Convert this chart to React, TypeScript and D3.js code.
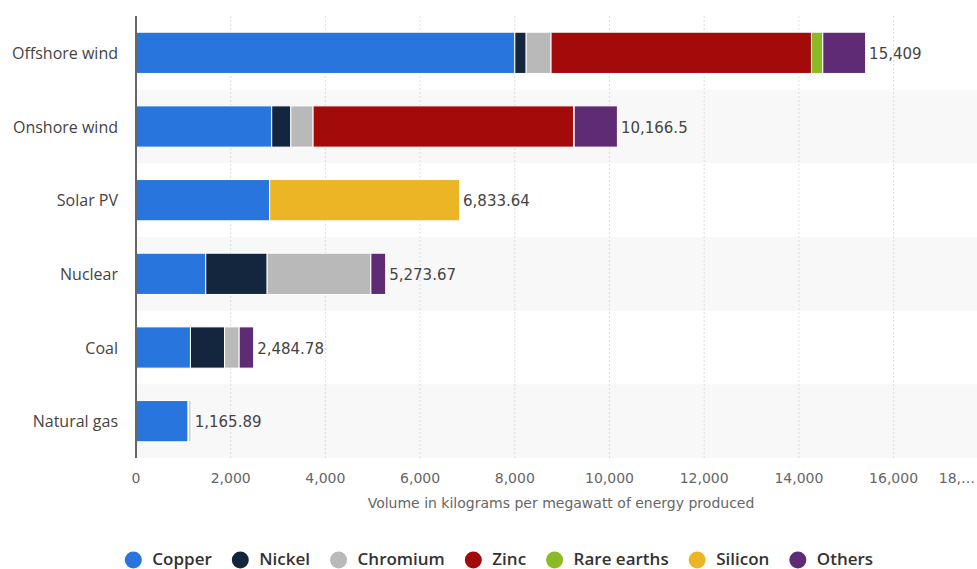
import React, { useMemo } from "react";
import * as d3 from "d3";

const categories = ["Offshore wind", "Onshore wind", "Solar PV", "Nuclear", "Coal", "Natural gas"];
const seriesNames = ["Copper", "Nickel", "Chromium", "Zinc", "Rare earths", "Silicon", "Others"];
const seriesColors = ["#2876dd", "#13263d", "#b9b9b9", "#a30b0b", "#8aba25", "#ebb526", "#5e2b74"];
const copper = [8000, 2866, 2822, 1473, 1150, 1100];
const nickel = [240, 404, 0, 1297, 721, 16];
const chromium = [525.5, 470, 0, 2190, 308, 48.34];
const zinc = [5500, 5500, 0, 0, 0, 0];
const rareEarths = [239, 14, 0, 0, 0, 0];
const silicon = [0, 0, 4011.64, 0, 0, 0];
const others = [904.5, 912.5, 0, 313.67, 305.78, 1.55];
const totalLabels = ["15,409", "10,166.5", "6,833.64", "5,273.67", "2,484.78", "1,165.89"];
const tickValues = [0, 2000, 4000, 6000, 8000, 10000, 12000, 14000, 16000, 18000];
const axisTitle = "Volume in kilograms per megawatt of energy produced";

const W = 977;
const H = 569;
const LEGEND_FONT = "600 17px 'Open Sans'";

function measure(text: string, font: string): number {
  const c = document.createElement("canvas").getContext("2d");
  if (!c) return text.length * 9;
  c.font = font;
  return c.measureText(text).width;
}

export default function App() {
  const series = [copper, nickel, chromium, zinc, rareEarths, silicon, others];
  const x = d3.scaleLinear().domain([0, 18000]).range([136, 136 + 18000 * 0.04735]);
  const y = d3.scaleBand<string>().domain(categories).range([16, 458]).padding(0);
  const barH = y.step() * 0.56;

  const rows = categories.map((c, i) => {
    let acc = 0;
    const segs = series.map((s, k) => {
      const v = s[i];
      const seg = { k, x0: acc, x1: acc + v };
      acc += v;
      return seg;
    }).filter((s) => s.x1 - s.x0 > 0);
    return { c, i, segs, total: acc };
  });

  const legend = useMemo(() => {
    const widths = seriesNames.map((n) => measure(n, LEGEND_FONT));
    const items: { name: string; cx: number; tx: number }[] = [];
    let pos = 0;
    widths.forEach((w, i) => {
      items.push({ name: seriesNames[i], cx: pos, tx: pos + 19 });
      pos += 19 + w + 28.5;
    });
    const totalW = pos - 28.5 + 8.5;
    const start = 499 - totalW / 2 + 8.5;
    return items.map((it) => ({ ...it, cx: it.cx + start, tx: it.tx + start }));
  }, []);

  return (
    <svg width={W} height={H} style={{ display: "block", position: "absolute", left: 0, top: 0 }}>
      <rect x={0} y={0} width={W} height={H} fill="#ffffff" />
      {categories.map((c, i) =>
        i % 2 === 1 ? (
          <rect key={"band" + c} x={136} y={y(c)!} width={W - 136} height={y.step()} fill="#f8f8f8" />
        ) : null
      )}
      {tickValues.slice(1).map((t) => (
        <line key={"g" + t} x1={x(t)} x2={x(t)} y1={16} y2={458} stroke="#dddddd" strokeWidth={1} strokeDasharray="2,2" />
      ))}
      {rows.map((r) => (
        <g key={r.c}>
          {r.segs.map((s) => (
            <rect
              key={s.k}
              x={x(s.x0)}
              y={y(r.c)! + (y.step() - barH) / 2}
              width={Math.max(0, x(s.x1) - x(s.x0))}
              height={barH}
              fill={seriesColors[s.k]}
              stroke="#ffffff"
              strokeWidth={1}
            />
          ))}
          <text
            x={x(r.total) + 3.5}
            y={y(r.c)! + y.step() / 2 + 6}
            fontFamily="'DejaVu Sans', Verdana, sans-serif"
            fontSize={15}
            fill="#444444"
          >
            {totalLabels[r.i]}
          </text>
          <text
            x={118}
            y={y(r.c)! + y.step() / 2 + 6}
            textAnchor="end"
            fontFamily="'Open Sans', sans-serif"
            fontSize={16}
            fill="#444444"
          >
            {r.c}
          </text>
        </g>
      ))}
      <line x1={136} x2={136} y1={16} y2={458} stroke="#666666" strokeWidth={2} />
      {tickValues.map((t) => {
        const label = t === 18000 ? "18,…" : d3.format(",")(t);
        const px = x(t);
        const over = px + 20 > W;
        return (
          <text
            key={"t" + t}
            x={over ? W - 2 : px}
            y={482.5}
            textAnchor={over ? "end" : "middle"}
            fontFamily="'DejaVu Sans', Verdana, sans-serif"
            fontSize={14}
            fill="#666666"
          >
            {label}
          </text>
        );
      })}
      <text
        x={561}
        y={508}
        textAnchor="middle"
        fontFamily="'DejaVu Sans', Verdana, sans-serif"
        fontSize={14}
        fill="#666666"
      >
        {axisTitle}
      </text>
      {legend.map((it, i) => (
        <g key={it.name}>
          <circle cx={it.cx} cy={560} r={8.5} fill={seriesColors[i]} />
          <text x={it.tx} y={565} fontFamily="'Open Sans', sans-serif" fontWeight={600} fontSize={17} fill="#333333">
            {it.name}
          </text>
        </g>
      ))}
    </svg>
  );
}
